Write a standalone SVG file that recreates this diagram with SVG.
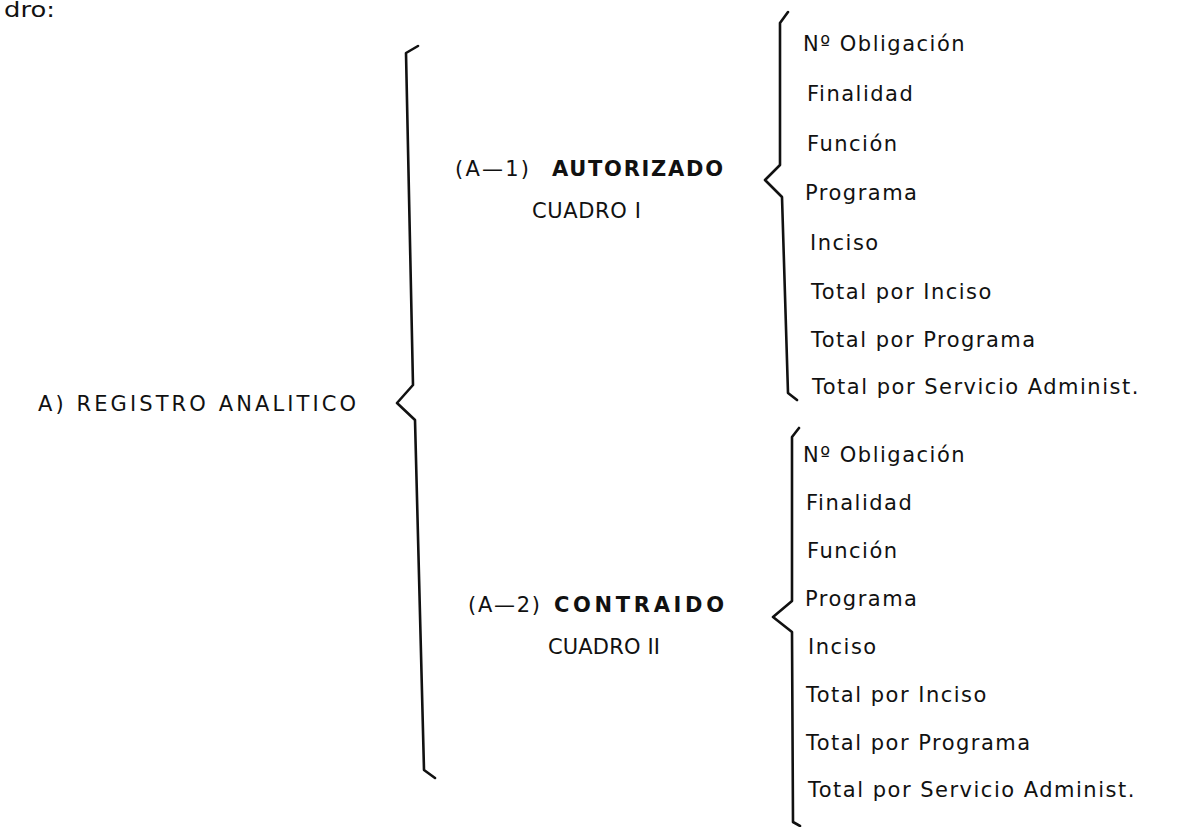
<svg xmlns="http://www.w3.org/2000/svg" width="1182" height="827" viewBox="0 0 1182 827">
<style>
.t{font-family:"DejaVu Sans","Liberation Sans",sans-serif;font-size:21px;fill:#111;letter-spacing:1.5px}
.l{font-family:"DejaVu Sans","Liberation Sans",sans-serif;font-size:21px;fill:#111}
.b{font-family:"DejaVu Sans","Liberation Sans",sans-serif;font-size:21px;font-weight:bold;fill:#111}
.br{fill:none;stroke:#111;stroke-width:2.6;stroke-linejoin:round;stroke-linecap:round}
</style>
<rect width="1182" height="827" fill="#fff"/>
<text class="l" x="4" y="17" textLength="51" lengthAdjust="spacingAndGlyphs">dro:</text>
<g id="connectors">
<path class="br" d="M418,46 L406,53 L413,385 L397,403 L415,420 L424,770 L435,778"/>
<path class="br" d="M788,12 L780,23 L780,165 L765,180 L782,197 L788,393 L797,400"/>
<path class="br" d="M799,428 L792,437 L792,601 L773,617 L792,632 L793,822 L800,826"/>
</g>
<g id="root">
<text class="l" x="38" y="411" font-size="23" textLength="318" lengthAdjust="spacing">A) REGISTRO ANALITICO</text>
</g>
<g id="a1">
<text class="l" x="455" y="176" textLength="74" lengthAdjust="spacing">(A—1)</text>
<text class="b" x="552" y="176" textLength="171" lengthAdjust="spacing">AUTORIZADO</text>
<text class="l" x="532" y="218" textLength="109" lengthAdjust="spacing">CUADRO I</text>
</g>
<g id="a2">
<text class="l" x="468" y="612" textLength="72" lengthAdjust="spacing">(A—2)</text>
<text class="b" x="554" y="612" textLength="170" lengthAdjust="spacing">CONTRAIDO</text>
<text class="l" x="548" y="654" textLength="112" lengthAdjust="spacing">CUADRO II</text>
</g>
<g id="list1">
<text class="t" x="803" y="51">Nº Obligación</text>
<text class="t" x="807" y="101">Finalidad</text>
<text class="t" x="807" y="151">Función</text>
<text class="t" x="805" y="200">Programa</text>
<text class="t" x="810" y="250">Inciso</text>
<text class="t" x="811" y="299">Total por Inciso</text>
<text class="t" x="811" y="347">Total por Programa</text>
<text class="t" x="812" y="394">Total por Servicio Administ.</text>
</g>
<g id="list2">
<text class="t" x="803" y="462">Nº Obligación</text>
<text class="t" x="806" y="510">Finalidad</text>
<text class="t" x="807" y="558">Función</text>
<text class="t" x="805" y="606">Programa</text>
<text class="t" x="808" y="654">Inciso</text>
<text class="t" x="806" y="702">Total por Inciso</text>
<text class="t" x="806" y="750">Total por Programa</text>
<text class="t" x="808" y="797">Total por Servicio Administ.</text>
</g>
</svg>
